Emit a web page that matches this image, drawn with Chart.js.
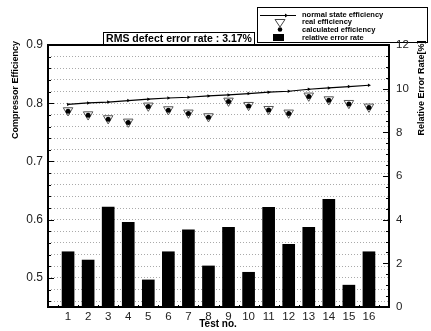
<!DOCTYPE html>
<html>
<head>
<meta charset="utf-8">
<script src="https://cdn.jsdelivr.net/npm/chart.js@4/dist/chart.umd.min.js"></script>
<style>
html,body{margin:0;padding:0;background:#fff;}
#c{display:block;}
</style>
</head>
<body>
<canvas id="c" width="431" height="331" style="width:431px;height:331px"></canvas>
<script>
// ---- data ----
const tests = [1,2,3,4,5,6,7,8,9,10,11,12,13,14,15,16];
const normalEff = [0.798,0.8005,0.802,0.8045,0.807,0.809,0.8103,0.8125,0.8142,0.8166,0.8189,0.8206,0.824,0.8262,0.8286,0.8309];
const realEff   = [0.7875,0.7805,0.7738,0.768,0.7955,0.7892,0.7835,0.7772,0.804,0.7966,0.7897,0.7835,0.8127,0.8063,0.8,0.7938];
const calcEff   = [0.7863,0.7794,0.7726,0.7669,0.7943,0.788,0.7823,0.776,0.8029,0.7954,0.7885,0.7823,0.8115,0.8051,0.7988,0.7926];
const errorRate = [2.53,2.15,4.58,3.88,1.24,2.53,3.53,1.88,3.65,1.59,4.57,2.87,3.65,4.93,1.0,2.53];
const leftTickLabels = [0.5,0.6,0.7,0.8,0.9];
const rightTickLabels = [0,2,4,6,8,10,12];
const rmsText = 'RMS defect error rate : 3.17%';
const seriesNames = ['normal state efficiency','real efficiency','calculated efficiency','relative error rate'];

const FONT = 'Arial, "Liberation Sans", sans-serif';
const pts = arr => tests.map((t,i)=>({x:t,y:arr[i]}));
const isLabel = (list,v) => list.some(t => Math.abs(t-v) < 1e-9);

const framePlugin = {
  id:'frame',
  beforeDraw(chart){
    const ctx = chart.ctx;
    ctx.save();
    ctx.lineWidth = 1;
    ctx.strokeStyle = '#000';
    ctx.fillStyle = '#fff';
    ctx.fillRect(103.5, 32.5, 151, 12);
    ctx.strokeRect(103.5, 32.5, 151, 12);
    ctx.fillStyle = '#000';
    ctx.font = 'bold 10.5px ' + FONT;
    ctx.textAlign = 'center'; ctx.textBaseline = 'middle';
    ctx.fillText(rmsText, 179, 39.5);

    ctx.fillStyle = '#fff';
    ctx.fillRect(257.5, 7.5, 170, 35);
    ctx.strokeStyle = '#000';
    ctx.strokeRect(257.5, 7.5, 170, 35);
    ctx.lineWidth = 1.2;
    ctx.beginPath(); ctx.moveTo(260, 15.5); ctx.lineTo(296, 15.5); ctx.stroke();
    ctx.fillStyle = '#000';
    ctx.beginPath(); ctx.moveTo(285, 13.5); ctx.lineTo(285, 17.5); ctx.lineTo(288, 15.5); ctx.closePath(); ctx.fill();
    ctx.lineWidth = 1;
    ctx.strokeStyle = '#444';
    ctx.beginPath(); ctx.moveTo(275, 19.5); ctx.lineTo(285, 19.5); ctx.lineTo(280, 27); ctx.closePath(); ctx.stroke();
    ctx.fillStyle = '#000';
    ctx.beginPath(); ctx.arc(280, 29.5, 2.3, 0, Math.PI*2); ctx.fill();
    ctx.fillRect(273, 34, 11, 7);
    ctx.font = 'bold 7.5px ' + FONT;
    ctx.textAlign = 'left'; ctx.textBaseline = 'middle';
    ctx.fillText(seriesNames[0], 302, 14.5);
    ctx.fillText(seriesNames[1], 302, 22);
    ctx.fillText(seriesNames[2], 302, 29.5);
    ctx.fillText(seriesNames[3], 302, 37.5);
    ctx.restore();
  },
  afterDraw(chart){
    const ctx = chart.ctx, a = chart.chartArea;
    const y = chart.scales.y, y2 = chart.scales.y2, x = chart.scales.x;
    ctx.save();
    ctx.strokeStyle = '#000';
    ctx.lineWidth = 1;
    y.ticks.forEach(t => {
      const py = Math.round(y.getPixelForValue(t.value)) + 0.5;
      const len = isLabel(leftTickLabels, t.value) ? 6 : 3;
      ctx.beginPath(); ctx.moveTo(a.left, py); ctx.lineTo(a.left + len, py); ctx.stroke();
    });
    for (let v = 0; v <= 12; v += 0.5) {
      const py = Math.round(y2.getPixelForValue(v)) + 0.5;
      const len = isLabel(rightTickLabels, v) ? 6 : 3;
      ctx.beginPath(); ctx.moveTo(a.right, py); ctx.lineTo(a.right - len, py); ctx.stroke();
    }
    for (let v = 0.5; v <= 16.5; v += 0.5) {
      const px = Math.round(x.getPixelForValue(v)) + 0.5;
      const len = Number.isInteger(v) ? 4 : 2;
      ctx.beginPath(); ctx.moveTo(px, a.bottom); ctx.lineTo(px, a.bottom - len); ctx.stroke();
    }
    ctx.lineWidth = 2;
    ctx.strokeRect(a.left, a.top, a.right - a.left, a.bottom - a.top);

    ctx.fillStyle = '#000';
    ctx.font = 'bold 9px ' + FONT;
    ctx.textAlign = 'center'; ctx.textBaseline = 'middle';
    ctx.save(); ctx.translate(16, 90); ctx.rotate(-Math.PI/2);
    ctx.fillText('Compressor Efficiency', 0, 0); ctx.restore();
    ctx.save(); ctx.translate(422, 88); ctx.rotate(-Math.PI/2);
    ctx.fillText('Relative Error Rate[%]', 0, 0); ctx.restore();
    ctx.font = 'bold 10px ' + FONT;
    ctx.fillText('Test no.', 218, 324);
    ctx.restore();
  }
};

new Chart(document.getElementById('c'), {
  type:'bar',
  data:{
    datasets:[
      {type:'line', label:seriesNames[0], data:pts(normalEff), borderColor:'#000', borderWidth:1.2,
       pointStyle:'triangle', rotation:90, pointRadius:2, pointBackgroundColor:'#000', pointBorderColor:'#000', pointBorderWidth:0, yAxisID:'y', order:0},
      {type:'line', label:seriesNames[2], data:pts(calcEff), showLine:false, pointStyle:'circle', pointRadius:2.5,
       pointBackgroundColor:'#000', pointBorderColor:'#000', pointBorderWidth:0, yAxisID:'y', order:1},
      {type:'line', label:seriesNames[1], data:pts(realEff), showLine:false, pointStyle:'triangle', rotation:180, pointRadius:5.5,
       pointBackgroundColor:'rgba(255,255,255,0.9)', pointBorderColor:'#555', pointBorderWidth:1, yAxisID:'y', order:2},
      {type:'bar', label:seriesNames[3], data:pts(errorRate), backgroundColor:'#000', barThickness:12, yAxisID:'y2', order:5}
    ]
  },
  options:{
    responsive:false, animation:false, devicePixelRatio:1,
    layout:{padding:{top:45,left:0,right:0,bottom:0}},
    plugins:{legend:{display:false}, tooltip:{enabled:false}},
    scales:{
      x:{type:'linear', min:0, max:17, offset:false,
         afterBuildTicks: s => { s.ticks = tests.map(v => ({value:v})); },
         afterFit: s => { s.height = 24; },
         ticks:{font:{family:FONT,size:11.5}, color:'#222', padding:3, maxRotation:0, autoSkip:false},
         grid:{display:false, drawTicks:false}, border:{display:false}},
      y:{position:'left', min:0.45, max:0.9,
         afterBuildTicks: s => { const t=[]; for(let i=23;i<=45;i++) t.push({value:i/50}); s.ticks = t; },
         afterFit: s => { s.width = 48; },
         ticks:{font:{family:FONT,size:12}, color:'#222', padding:5, autoSkip:false,
                callback: v => isLabel(leftTickLabels, v) ? v.toFixed(1) : ''},
         grid:{color:'#aaa', lineWidth:1, drawTicks:false}, border:{display:false, dash:[1,2]}},
      y2:{position:'right', min:0, max:12,
         afterBuildTicks: s => { s.ticks = rightTickLabels.map(v => ({value:v})); },
         afterFit: s => { s.width = 42; },
         ticks:{font:{family:FONT,size:11.5}, color:'#222', padding:7, autoSkip:false},
         grid:{display:false, drawTicks:false}, border:{display:false}}
    }
  },
  plugins:[framePlugin]
});
</script>
</body>
</html>
